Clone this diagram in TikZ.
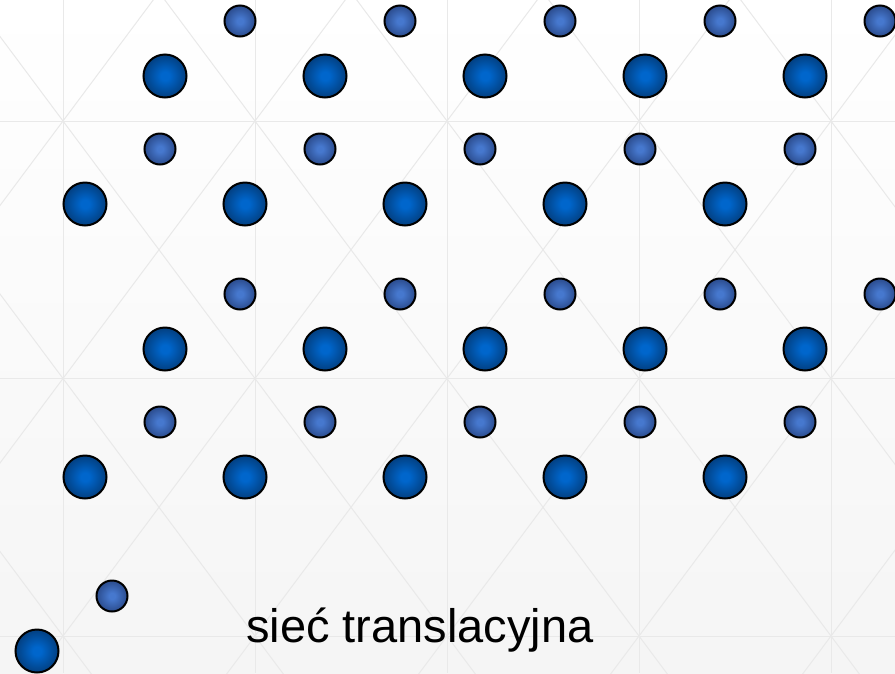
\documentclass[tikz,border=0pt]{standalone}
\usepackage{fontspec}
\setmainfont{Liberation Sans}
\usetikzlibrary{calc, shadings}
\definecolor{BigCore}{RGB}{0, 102, 204}
\definecolor{BigRim}{RGB}{4, 30, 64}
\definecolor{SmallCore}{RGB}{70, 120, 206}
\definecolor{SmallRim}{RGB}{20, 38, 86}
\definecolor{BgGray}{RGB}{245, 245, 245}
\definecolor{GridGray}{RGB}{233, 233, 233}
\pgfdeclareradialshading{bigball}{\pgfpointorigin}{color(0bp)=(BigCore); color(5bp)=(BigCore); color(42bp)=(BigRim); color(100bp)=(BigRim)}
\pgfdeclareradialshading{smallball}{\pgfpointorigin}{color(0bp)=(SmallCore); color(5bp)=(SmallCore); color(42bp)=(SmallRim); color(100bp)=(SmallRim)}

\begin{document}
\begin{tikzpicture}[
    x=1pt, y=-1pt,
    gridline/.style={draw=GridGray, line width=1pt},
    bigatom/.style={circle, draw=black, line width=2pt, shade, shading=bigball,
                    minimum size=43pt, inner sep=0pt},
    smallatom/.style={circle, draw=black, line width=2pt, shade, shading=smallball,
                      minimum size=31pt, inner sep=0pt}
]
\useasboundingbox (0,0) rectangle (895,673);
% background with faint grid
\begin{scope}
\clip (0,0) rectangle (895,673);
\shade[top color=white, bottom color=BgGray] (0,0) rectangle (895,673);
\foreach \gx in {63,255,...,831}
    \draw[gridline] (\gx,0) -- (\gx,673);
\foreach \gy in {121,378.5,636}
    \draw[gridline] (0,\gy) -- (895,\gy);
\foreach \m in {-5,...,6} {
    \draw[gridline] ({63+192*(\m-1)},-136.5) -- ({63+192*(\m+3)},893.5);
    \draw[gridline] ({63+192*(\m+1)},-136.5) -- ({63+192*(\m-3)},893.5);
}
\end{scope}
% lattice: big atom with its small partner
\foreach \row/\yy/\xo in {A/76/165, B/204/85, C/349/165, D/477/85}
    \foreach \i in {1,...,5} {
        \node[bigatom] (big-\row\i) at ({\xo+160*(\i-1)},\yy) {};
        \node[smallatom] (small-\row\i) at ($(big-\row\i)+(75,-55)$) {};
    }
% basis
\node[bigatom] (basis-big) at (37,651) {};
\node[smallatom] (basis-small) at ($(basis-big)+(75,-55)$) {};
\node[font=\fontsize{47}{56}\selectfont, anchor=base] (caption) at (420,642) {sieć translacyjna};
\end{tikzpicture}
\end{document}
